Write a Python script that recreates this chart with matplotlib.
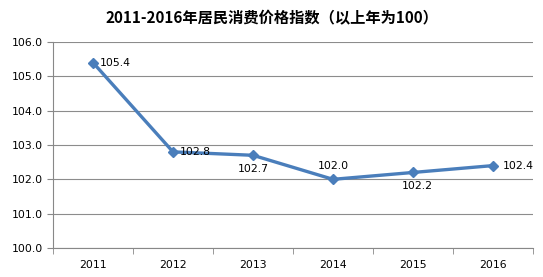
import matplotlib
matplotlib.use("Agg")
import matplotlib.pyplot as plt

plt.rcParams['font.family'] = ['Noto Sans CJK SC', 'DejaVu Sans']

years = ['2011', '2012', '2013', '2014', '2015', '2016']
cpi = [105.4, 102.8, 102.7, 102.0, 102.2, 102.4]
# label placement per point (dx, dy in points, ha, va)
label_pos = [
    (5, 0, 'left', 'center'),
    (5, 0, 'left', 'center'),
    (0, -6, 'center', 'top'),
    (0, 6, 'center', 'bottom'),
    (3, -6, 'center', 'top'),
    (7, 0, 'left', 'center'),
]

fig = plt.figure(figsize=(5.43, 2.77), dpi=100)
ax = fig.add_axes([0.0976, 0.1047, 0.884, 0.7437])

x = list(range(len(years)))
ax.plot(x, cpi, color='#4A7EBB', lw=2.4, marker='D', ms=5.5, zorder=3)

for xi, v, (dx, dy, ha, va) in zip(x, cpi, label_pos):
    ax.annotate(f'{v:.1f}', (xi, v), xytext=(dx, dy), textcoords='offset points',
                ha=ha, va=va, fontsize=7.8, family='DejaVu Sans')

ax.set_xlim(-0.5, len(years) - 0.5)
ax.set_ylim(100, 106)
ax.set_yticks([100, 101, 102, 103, 104, 105, 106])
ax.set_yticklabels([f'{t:.1f}' for t in [100, 101, 102, 103, 104, 105, 106]],
                   fontsize=7.8, family='DejaVu Sans')
ax.set_xticks(x)
ax.set_xticklabels(years, fontsize=7.8, family='DejaVu Sans')
ax.set_xticks([i - 0.5 for i in range(len(years) + 1)], minor=True)
ax.tick_params(axis='x', which='major', length=0, pad=9)
ax.tick_params(axis='x', which='minor', length=4, color='#888888')
ax.tick_params(axis='y', length=4, color='#888888', pad=3)

ax.grid(axis='y', color='#8c8c8c', lw=0.8)
ax.set_axisbelow(True)
for s in ['top', 'right']:
    ax.spines[s].set_visible(False)
ax.spines['left'].set_color('#888888')
ax.spines['bottom'].set_color('#888888')

fig.text(0.5, 0.935, '2011-2016年居民消费价格指数（以上年为100）', ha='center', va='center',
         fontsize=11, fontweight='bold')

fig.savefig('out.png', dpi=100)
